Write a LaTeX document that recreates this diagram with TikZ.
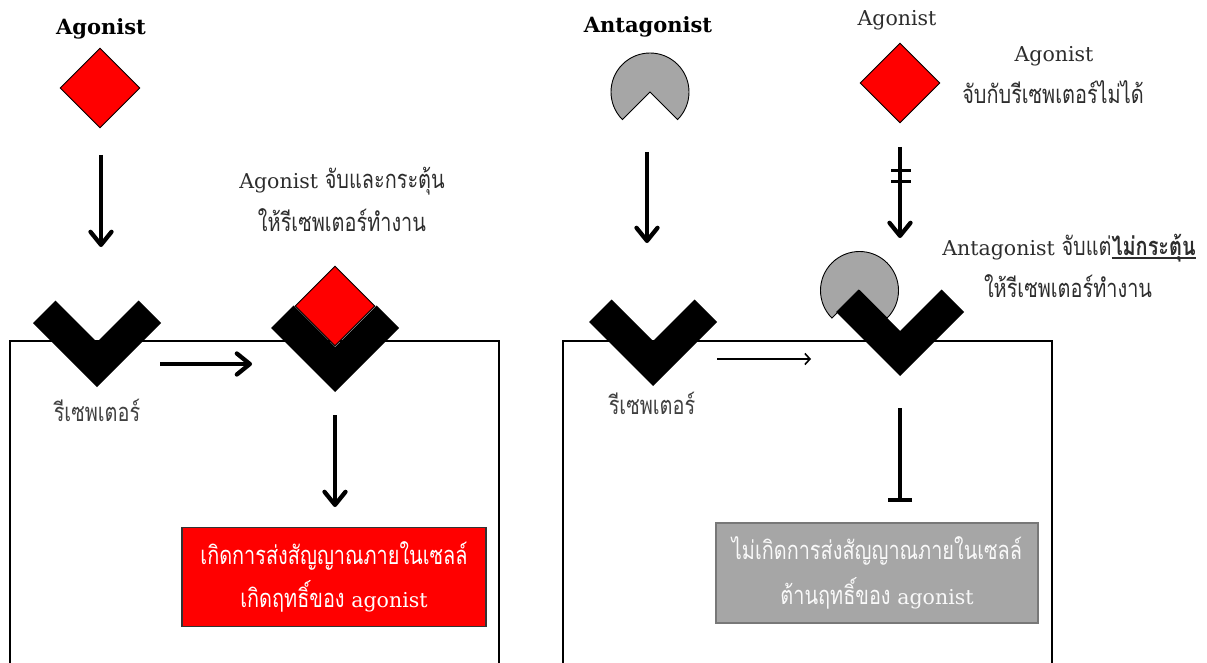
\documentclass[tikz,border=0pt]{standalone}
\usepackage{fontspec}
\setmainfont[Script=Thai,FakeStretch=0.78]{Loma}
\newfontfamily\latserif{DejaVu Serif}
\usetikzlibrary{arrows.meta,shapes.geometric}
\definecolor{agred}{RGB}{255,0,0}
\definecolor{antgray}{RGB}{166,166,166}
\definecolor{txtgray}{RGB}{45,45,45}
\definecolor{boxedge}{RGB}{120,120,120}
\newcommand\latw[1]{{\latserif\fontsize{20.5}{24}\selectfont #1}}
\newcommand\ulbold[1]{\setbox0\hbox{#1}\rlap{\rule[-3.5pt]{\wd0}{1.6pt}}\box0}
\begin{document}
\begin{tikzpicture}[x=1pt,y=-1pt,
  thickarrow/.style={line width=4.3pt,-{Straight Barb[length=13pt,width=21pt,round]}},
  thinarrow/.style={line width=1.6pt,-{Straight Barb[length=5pt,width=11pt]}},
  blockline/.style={line width=4pt,-{Bar[width=24pt]}},
  membrane/.style={line width=1.3pt,draw=black},
  headtxt/.style={font=\latserif\bfseries\fontsize{21}{25}\selectfont,anchor=base,inner sep=0pt},
  captxt/.style={font=\fontsize{25.5}{30}\selectfont,text=txtgray,anchor=base,inner sep=0pt},
  lig/.style={diamond,aspect=1,minimum size=80pt,inner sep=0pt,fill=agred,draw=black,line width=0.9pt},
  redbox/.style={draw=black!80,line width=1.4pt,fill=agred,text=white,minimum width=304pt,minimum height=99pt,align=center,font=\fontsize{25.5}{43}\selectfont,inner sep=0pt},
  graybox/.style={draw=boxedge,line width=1.6pt,fill=antgray,text=white!95!gray,minimum width=322pt,minimum height=100pt,align=center,font=\fontsize{25.5}{45}\selectfont,inner sep=0pt},
  receptor/.pic={\fill[black] (0,0) -- (-64,-64) -- (-41.5,-86.5) -- (0,-45) -- (41.5,-86.5) -- (64,-64) -- cycle;},
  pacman/.pic={\filldraw[fill=antgray,draw=black,line width=0.9pt] (0,0) -- (45:39) arc[start angle=45,end angle=-225,radius=39] -- cycle;}
]
\useasboundingbox (0,0) rectangle (1207,663);

% ---------------- left panel ----------------
\draw[membrane] (10,664) -- (10,341) -- (499,341) -- (499,664);
\node[headtxt] (hAg) at (101,35) {Agonist};
\node[lig] (agL) at (100,88) {};
\coordinate (a1s) at (101,155);
\coordinate (a1e) at (101,247);
\draw[thickarrow] (a1s) -- (a1e);

\pic (recL) at (97,387) {receptor};
\node[captxt,text=black!75] (recLlab) at (97,421) {รีเซพเตอร์};

\coordinate (a2s) at (160,364);
\coordinate (a2e) at (252,364);
\draw[thickarrow] (a2s) -- (a2e);

\node[captxt] (capL1) at (342,189) {\latw{Agonist} จับและกระตุ้น};
\node[captxt] (capL2) at (342,232) {ให้รีเซพเตอร์ทำงาน};

\node[lig] (agBound) at (335,306) {};
\pic (recB) at (335,392) {receptor};

\coordinate (a3s) at (335,415);
\coordinate (a3e) at (335,507);
\draw[thickarrow] (a3s) -- (a3e);

\node[redbox] (sigL) at (334,577) {เกิดการส่งสัญญาณภายในเซลล์\\เกิดฤทธิ์ของ \latw{agonist}};

% ---------------- right panel ----------------
\draw[membrane] (563,664) -- (563,341) -- (1052,341) -- (1052,664);
\node[headtxt] (hAnt) at (648,33) {Antagonist};
\pic (antFree) at (650,92) {pacman};
\coordinate (b1s) at (647,152);
\coordinate (b1e) at (647,243);
\draw[thickarrow] (b1s) -- (b1e);

\pic (recR) at (653,386) {receptor};
\node[captxt,text=black!75] (recRlab) at (652,414) {รีเซพเตอร์};

\coordinate (b2s) at (717,359);
\coordinate (b2e) at (811,359);
\draw[thinarrow] (b2s) -- (b2e);

\node[captxt,font=\latserif\fontsize{20.5}{24}\selectfont] (agTop) at (897,26) {Agonist};
\node[lig] (agR) at (900,83) {};
\node[captxt,font=\latserif\fontsize{20.5}{24}\selectfont] (noBind1) at (1054,62) {Agonist};
\node[captxt] (noBind2) at (1053,104) {จับกับรีเซพเตอร์ไม่ได้};

\coordinate (b3s) at (900,147);
\coordinate (b3e) at (900,238);
\draw[thickarrow] (b3s) -- (b3e);
\coordinate (tick) at (901,176);
\draw[line width=3pt] ([xshift=-10pt,yshift=5.5pt]tick) -- ([xshift=10pt,yshift=5.5pt]tick);
\draw[line width=3pt] ([xshift=-10pt,yshift=-5.5pt]tick) -- ([xshift=10pt,yshift=-5.5pt]tick);

\pic (antBound) at (859.5,290.5) {pacman};
\pic (recBl) at (900,376) {receptor};

\node[captxt] (capR1) at (1069,255) {\latw{Antagonist} จับแต่\ulbold{\bfseries ไม่กระตุ้น}};
\node[captxt] (capR2) at (1068,297) {ให้รีเซพเตอร์ทำงาน};

\coordinate (b4s) at (900,408);
\coordinate (b4e) at (900,502);
\draw[blockline] (b4s) -- (b4e);

\node[graybox] (sigR) at (877,573) {ไม่เกิดการส่งสัญญาณภายในเซลล์\\ต้านฤทธิ์ของ \latw{agonist}};
\end{tikzpicture}
\end{document}
